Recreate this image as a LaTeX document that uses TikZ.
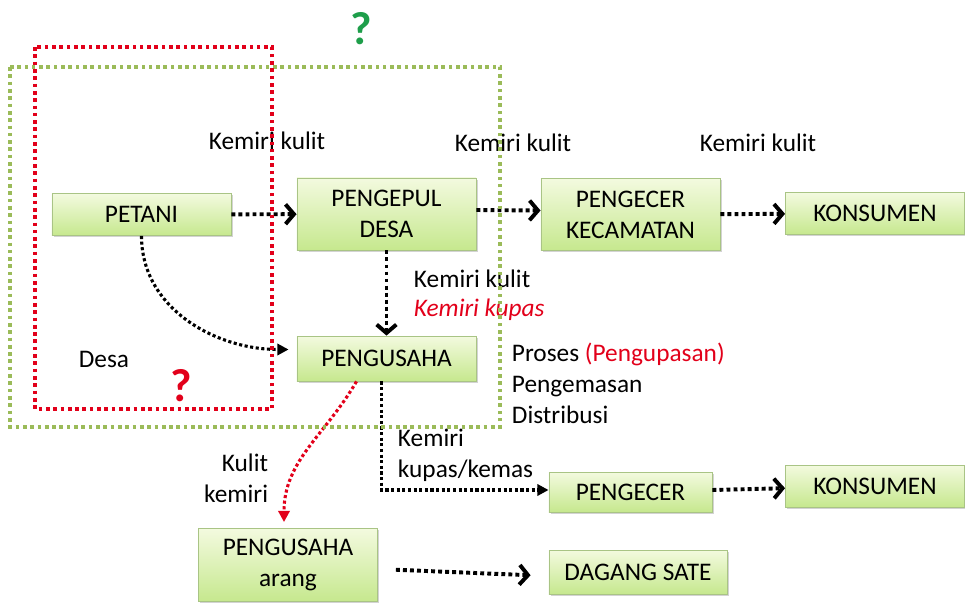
\documentclass[tikz,border=0pt]{standalone}
\usepackage{fontspec}
\setmainfont{Carlito}
\usepackage{tikz}
\usetikzlibrary{arrows.meta,shadows}
\definecolor{boxtop}{HTML}{F3FADF}
\definecolor{boxbot}{HTML}{C6E88E}
\definecolor{boxline}{HTML}{A9C485}
\definecolor{desagreen}{HTML}{9BBB59}
\definecolor{hotred}{HTML}{E2001A}
\definecolor{qgreen}{HTML}{1E9E4A}

\begin{document}
\begin{tikzpicture}[
  x=0.025cm, y=-0.025cm,
  every node/.style={font=\fontsize{18}{22}\selectfont},
  actor/.style={rectangle, draw=boxline, line width=0.6pt,
                top color=boxtop, bottom color=boxbot,
                drop shadow={shadow xshift=1.2pt, shadow yshift=-1.2pt, opacity=0.35},
                minimum width=4.475cm, minimum height=1.05cm, align=center,
                inner sep=2pt},
  flow/.style={-{Straight Barb[length=6pt, width=14pt]}, line width=2.8pt,
               dash pattern=on 2.8pt off 2.2pt},
  thinflow/.style={-{Triangle[length=8pt, width=8pt]}, line width=2.2pt,
                   dash pattern=on 2.2pt off 1.8pt},
  region/.style={line width=2.6pt, dash pattern=on 2.6pt off 2.6pt},
  note/.style={align=left, anchor=west},
]
  \useasboundingbox (0,0) rectangle (965,606);

  % actors
  \node[actor] (petani) at (141.5,214.5) {PETANI};
  \node[actor, minimum height=1.8cm] (pengepul) at (386.5,214) {PENGEPUL\\DESA};
  \node[actor, minimum height=1.8cm] (kecamatan) at (630.5,214.5) {PENGECER\\KECAMATAN};
  \node[actor] (konsumenA) at (875,213.5) {KONSUMEN};
  \node[actor, minimum height=1.125cm] (pengusaha) at (386.5,358.5) {PENGUSAHA};
  \node[actor, minimum width=4.075cm, minimum height=1cm] (pengecer) at (630.5,492) {PENGECER};
  \node[actor] (konsumenB) at (875,486) {KONSUMEN};
  \node[actor, minimum height=1.825cm] (arang) at (288,565) {PENGUSAHA\\arang};
  \node[actor, minimum width=4.45cm, minimum height=1.1cm] (sate) at (638,572) {DAGANG SATE};

  % main chain
  \draw[flow] (petani) -- (pengepul);
  \draw[flow] ([yshift=0.1cm]pengepul.east) -- ([yshift=0.1cm]kecamatan.west);
  \draw[flow] (kecamatan) -- (konsumenA);
  \draw[flow] (pengepul) -- (pengusaha);
  \draw[thinflow] (petani.south) to[out=-90, in=180]
    ([xshift=-0.2cm, yshift=0.225cm]pengusaha.west);
  \draw[thinflow] ([xshift=-0.125cm]pengusaha.south) |- ([yshift=0.05cm]pengecer.west);
  \draw[flow] (pengecer) -- (konsumenB);
  \draw[thinflow, hotred] ([xshift=-0.75cm]pengusaha.south) to[out=-120, in=90]
    ([xshift=-0.1cm, yshift=0.15cm]arang.north);
  \draw[flow, shorten <=0.45cm, shorten >=0.45cm] ([yshift=-0.1cm]arang.east) -- ([yshift=-0.1cm]sate.west);

  % labels
  \node (kulitA) at (267,141) {Kemiri kulit};
  \node (kulitB) at (513,143) {Kemiri kulit};
  \node (kulitC) at (758,143) {Kemiri kulit};
  \node[note] (kulitD) at (409,279) {Kemiri kulit};
  \node[note, text=hotred] (kupas) at (409,310) {\itshape Kemiri kupas};
  \node (desa) at (104,359) {Desa};
  \node[note, anchor=north west] (proses) at (507,338)
    {Proses \textcolor{hotred}{(Pengupasan)}\\Pengemasan\\Distribusi};
  \node[note] (kemasan) at (393,455) {Kemiri\\kupas/kemas};
  \node[align=right, anchor=east] (kulitkemiri) at (273,478) {Kulit\\kemiri};

  % regions
  \draw[region, desagreen] (10,67) rectangle (500,427);
  \draw[region, hotred] (35,47) rectangle (272,409);
  \node[text=qgreen, font=\fontsize{33}{35}\selectfont\bfseries] (qgreen) at (361,29) {?};
  \node[text=hotred, font=\fontsize{33}{35}\selectfont\bfseries] (qred) at (181,386) {?};
\end{tikzpicture}
\end{document}
